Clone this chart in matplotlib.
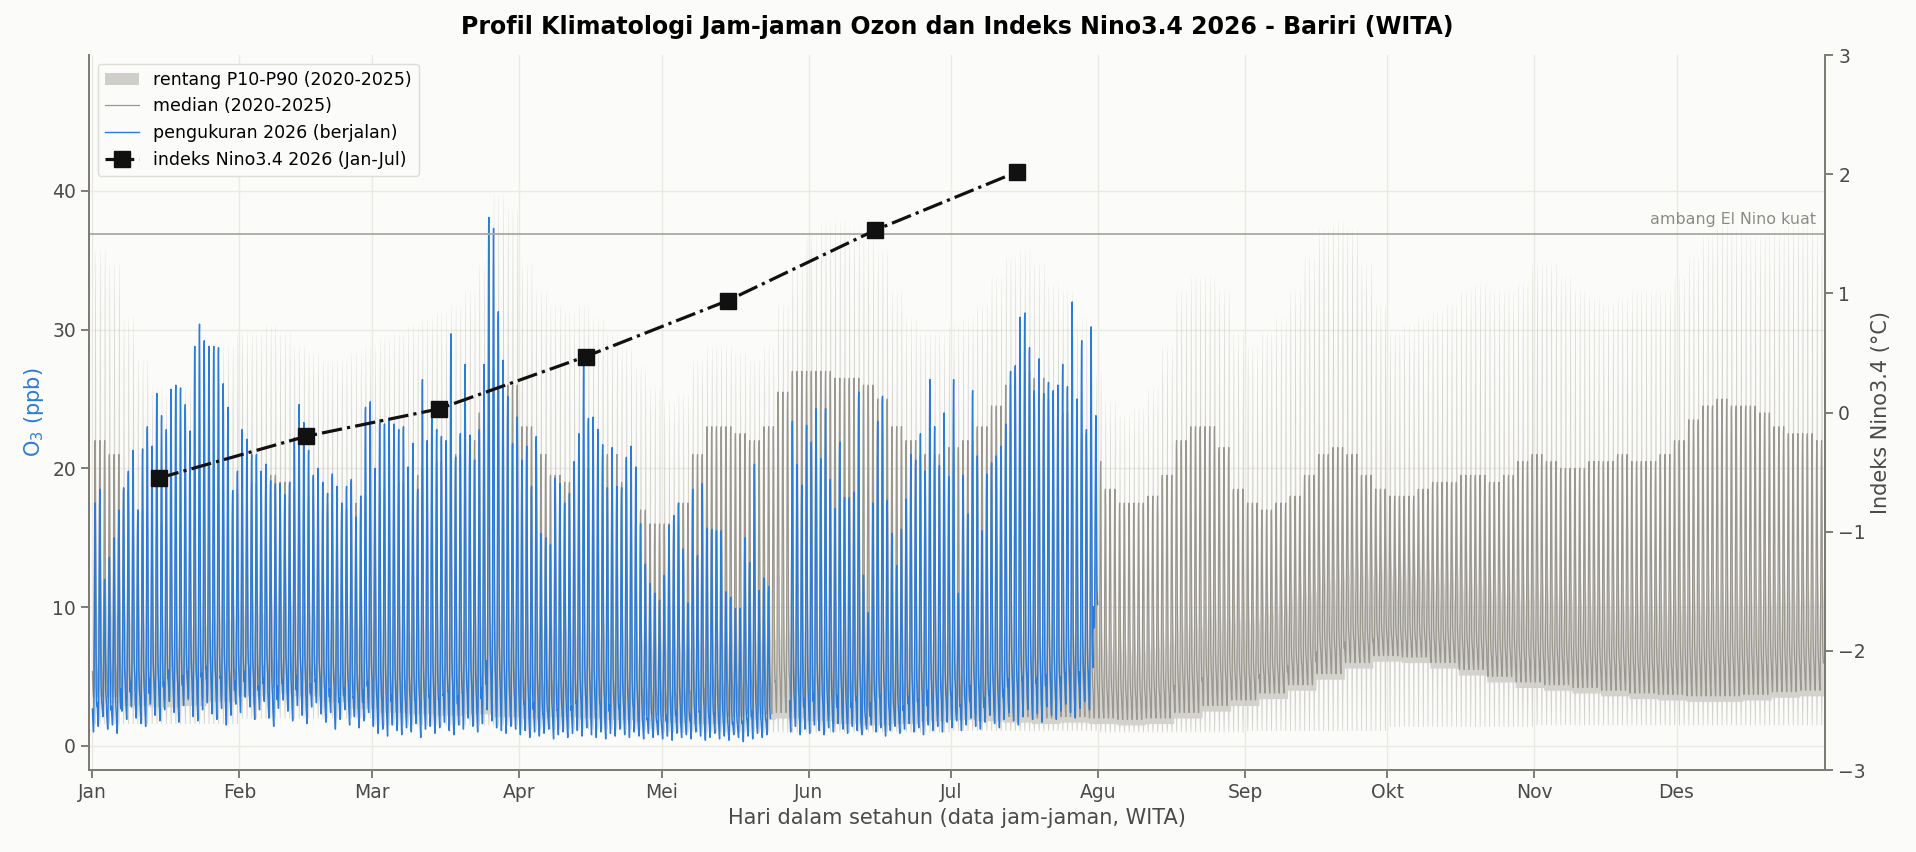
import numpy as np
import matplotlib.pyplot as plt
from matplotlib.patches import Patch
from matplotlib.lines import Line2D

# ---- data ----
month_labels = ["Jan", "Feb", "Mar", "Apr", "Mei", "Jun", "Jul", "Agu", "Sep", "Okt", "Nov", "Des"]
month_days = [31, 28, 31, 30, 31, 30, 31, 31, 30, 31, 30, 31]

# typical diurnal ozone shape (0 = night low, 1 = afternoon peak), hours 0..23 WITA
diurnal = [0.10, 0.07, 0.05, 0.03, 0.02, 0.00, 0.00, 0.04, 0.15, 0.32, 0.52, 0.72,
           0.88, 0.98, 1.00, 0.90, 0.70, 0.45, 0.28, 0.20, 0.16, 0.14, 0.12, 0.11]
# hours in which the low percentile dips (P10 drops around midday)
p10_dip = [0, 0, 0, 0, 0, 0, 0, 0, 0, 0.5, 1, 1,
           1, 1, 1, 0.5, 0, 0, 0, 0, 0, 0, 0, 0]

# climatology 2020-2025: afternoon peaks in 3-day steps (ppb)
med_peak = [22, 21, 18.5, 17, 16, 15.5, 16, 17, 17.5, 18,
            18.5, 19, 19.5, 19, 18.5, 18, 17.5, 17, 17.5, 18,
            18.5, 19, 19.5, 20, 20.5, 21, 22, 24, 27, 26,
            23, 21, 19.5, 19, 20, 21, 21, 19, 17, 16,
            16, 17.5, 21, 23, 23, 22.5, 22, 23, 25.5, 27,
            27, 27, 26.5, 26.5, 26, 25, 23, 22, 21, 21,
            21.5, 22, 23, 24.5, 26, 27, 26.5, 25, 24, 22.5,
            20.5, 18.5, 17.5, 17.5, 18, 19.5, 22, 23, 23, 21.5, 18.5,
            17.5, 17, 17.5, 18, 19.5, 21, 21.5, 21, 19.5, 18.5,
            18, 18, 18.5, 19, 19, 19.5, 19.5, 19, 19.5, 20.5,
            21, 20.5, 20, 20, 20.5, 20.5, 21, 20.5, 20.5, 21,
            22, 23.5, 24.5, 25, 24.5, 24.5, 24, 23, 22.5, 22.5, 22]
p90_peak = [36, 35, 31, 28, 26, 25.5, 26, 27, 28, 29,
            30, 30, 30.5, 30, 29, 28.5, 28, 28, 28.5, 29,
            29.5, 30, 30.5, 31, 31.5, 32, 33, 35, 40, 39,
            35, 33, 32, 31.5, 32, 31, 30, 29, 27.5, 26,
            25, 25.5, 28, 29, 29, 28.5, 28, 29, 32, 35,
            37, 38, 38, 37.5, 37, 36, 33, 31, 30, 30,
            30.5, 31, 32, 34, 35.5, 36, 35, 33.5, 33, 31,
            27, 25, 24, 24.5, 26, 29, 33, 34, 34, 33, 30,
            29, 30, 31, 33, 35.5, 37.5, 38, 37.5, 35, 32,
            30, 30.5, 31, 31.5, 32, 33, 33.5, 33, 33, 33.5,
            35, 35, 34, 33, 32.5, 32, 32.5, 33, 33, 33,
            34, 35.5, 37, 38, 37.5, 37, 37, 37.5, 38, 38, 37.5]
# night levels in 6-day steps: median, P10 and P90
med_trough = [3.5, 3.3, 3.2, 3.3, 3.6, 4.0, 4.2, 4.0, 3.6, 3.1,
              2.8, 2.7, 2.6, 2.7, 2.5, 2.4, 2.5, 2.4, 2.3, 2.2,
              2.1, 2.0, 2.1, 2.3, 2.4, 2.2, 2.0, 1.9, 2.0, 2.2,
              2.3, 2.2, 2.1, 2.0, 2.1, 2.0, 1.9, 2.0, 2.4, 2.9,
              3.3, 3.8, 4.4, 5.2, 6.0, 6.5, 6.4, 6.0, 5.5, 5.0,
              4.6, 4.4, 4.2, 4.0, 3.8, 3.7, 3.6, 3.6, 3.7, 3.9, 4.0]
p10_night = [3.1, 2.9, 2.8, 2.9, 3.2, 3.6, 3.8, 3.6, 3.2, 2.7,
             2.4, 2.3, 2.2, 2.3, 2.1, 2.0, 2.1, 2.0, 1.9, 1.8,
             1.7, 1.6, 1.7, 1.9, 2.0, 1.8, 1.6, 1.5, 1.6, 1.8,
             1.9, 1.8, 1.7, 1.6, 1.7, 1.6, 1.5, 1.6, 2.0, 2.5,
             2.9, 3.4, 4.0, 4.8, 5.6, 6.1, 6.0, 5.6, 5.1, 4.6,
             4.2, 4.0, 3.8, 3.6, 3.4, 3.3, 3.2, 3.2, 3.3, 3.5, 3.6]
p90_night = [6.5, 6.3, 6.2, 6.3, 6.6, 7.0, 7.2, 7.0, 6.6, 6.1,
             5.6, 5.5, 5.4, 5.5, 5.3, 5.1, 5.2, 5.1, 5.0, 4.9,
             4.7, 4.6, 4.7, 4.9, 5.0, 4.8, 4.6, 4.5, 4.6, 4.8,
             4.9, 4.8, 4.7, 4.6, 4.7, 4.6, 4.5, 4.6, 5.2, 5.8,
             6.4, 7.0, 7.8, 8.6, 9.4, 10.0, 9.9, 9.4, 8.8, 8.2,
             7.7, 7.4, 7.2, 7.0, 6.8, 6.6, 6.5, 6.5, 6.6, 6.9, 7.0]
# monthly midday low of P10
p10_day = [1.6, 2.0, 1.5, 1.2, 1.0, 1.0, 1.1, 1.0, 1.1, 1.4, 1.5, 1.5]

# 2026 measurements, daily afternoon peak and night low (ppb), Jan 1 - Jul 31
obs_peak = [
    17.5, 18.5, 12.0, 13.6, 15.0, 17.0, 18.6, 19.8, 21.3, 17.0, 21.4, 23.0, 21.6, 25.4, 23.8, 22.8,
    25.7, 26.0, 25.8, 24.6, 22.7, 28.8, 30.4, 29.2, 28.8, 28.8, 28.7, 26.1, 24.4, 18.4, 19.8,
    22.8, 22.1, 21.0, 21.0, 19.8, 20.3, 19.1, 18.9, 18.9, 18.1, 19.0, 22.2, 24.6, 23.3, 21.3, 19.5,
    20.0, 19.0, 18.2, 19.6, 18.7, 17.5, 18.7, 19.2, 16.5, 18.0, 24.4, 24.8,
    20.0, 23.5, 23.2, 23.5, 23.2, 22.8, 23.0, 20.1, 21.8, 18.5, 26.4, 22.0, 24.0, 22.8, 22.3, 22.0,
    29.7, 20.8, 22.5, 27.5, 22.4, 20.6, 22.8, 27.5, 38.1, 37.3, 31.3, 27.8, 25.2, 21.8, 23.7,
    20.6, 21.6, 18.7, 22.3, 15.3, 15.0, 14.5, 19.3, 18.9, 17.5, 18.2, 20.5, 22.5, 27.8, 23.6, 23.7,
    22.8, 21.7, 18.6, 21.5, 18.7, 18.6, 20.8, 21.6, 20.1, 16.0, 13.1, 11.7, 11.0, 10.5,
    12.3, 15.9, 16.6, 17.5, 14.2, 10.3, 18.5, 13.7, 18.9, 15.7, 15.6, 15.5, 15.5, 11.1, 10.7, 9.9,
    9.9, 15.0, 13.2, 20.3, 11.2, 12.1, 11.5, np.nan, np.nan, np.nan, np.nan, 23.4, 20.3, 18.8, 23.1,
    21.9, 24.3, 20.7, 24.3, 19.2, 17.1, 21.9, 17.9, 17.9, 18.3, 25.5, 12.3, 9.6, 17.5, 23.4, 25.2,
    17.7, 15.3, 13.0, 15.6, 17.8, 21.0, 20.6, 22.5, 19.8, 26.4, 23.0, 20.2, 24.0, 19.4,
    26.4, 11.0, 19.5, 16.7, 25.6, 20.9, 15.5, 19.6, 20.4, 20.9, 21.6, 23.2, 27.0, 27.4, 30.9, 31.2,
    28.7, 25.6, 27.9, 25.4, 26.2, 25.6, 26.0, 27.5, 25.9, 32.0, 25.0, 29.2, 22.8, 30.2, 23.8,
]
obs_low = [
    1.0, 1.4, 2.1, 1.2, 1.5, 0.9, 2.5, 1.9, 2.8, 2.0, 1.6, 1.4, 3.0, 2.2, 1.8, 2.6,
    3.2, 2.4, 1.7, 2.9, 3.4, 2.1, 1.8, 2.6, 3.1, 2.3, 1.9, 2.7, 1.5, 2.2, 3.0,
    2.4, 3.5, 2.8, 1.9, 2.6, 3.2, 2.0, 1.4, 2.7, 3.3, 2.5, 1.8, 2.9, 2.2, 1.6, 2.8,
    3.1, 2.3, 1.7, 2.4, 1.2, 1.9, 2.6, 1.5, 2.1, 1.3, 1.8, 2.4,
    1.4, 0.9, 1.2, 0.7, 1.5, 1.1, 0.8, 1.3, 1.0, 1.6, 0.6, 1.2, 1.4, 0.9, 1.3, 1.7,
    1.1, 0.8, 1.5, 1.2, 2.0, 1.4, 1.0, 1.6, 2.6, 1.8, 1.3, 1.1, 0.9, 1.4, 1.2,
    0.8, 1.1, 0.6, 1.0, 0.7, 0.9, 1.2, 0.5, 0.8, 1.0, 0.6, 0.9, 1.1, 0.7, 1.3, 0.8,
    0.6, 1.0, 0.5, 0.9, 0.7, 1.2, 0.8, 0.6, 1.0, 0.7, 0.5, 0.9, 0.6, 0.8,
    0.5, 0.7, 0.4, 0.9, 0.6, 0.8, 0.5, 1.0, 0.7, 0.4, 0.6, 0.9, 0.5, 0.7, 0.4, 0.8,
    0.6, 0.3, 0.7, 0.5, 0.9, 0.6, 0.8, np.nan, np.nan, np.nan, np.nan, 1.0, 1.4, 0.8, 1.2,
    0.9, 1.5, 1.1, 0.8, 1.3, 1.0, 1.6, 1.2, 0.9, 1.4, 1.1, 0.8, 1.2, 1.5, 1.0, 1.3,
    0.7, 1.1, 1.4, 0.9, 1.2, 1.6, 1.0, 1.3, 0.8, 1.5, 1.1, 1.4, 1.0, 1.7,
    1.3, 1.8, 1.1, 1.5, 2.0, 1.4, 1.2, 1.7, 2.2, 1.6, 1.3, 1.9, 2.4, 1.8, 1.5, 2.1,
    2.6, 1.9, 2.3, 1.7, 2.8, 2.2, 1.9, 2.5, 3.0, 2.4, 2.0, 2.7, 3.2, 2.6, 8.5,
]

# Nino3.4 index 2026, mid-month
nino_day = [14, 45, 73, 104, 134, 165, 195]
nino_val = [-0.55, -0.20, 0.03, 0.47, 0.94, 1.53, 2.02]
strong_threshold = 1.5

# ---- expand to hourly ----
n_days = 365
shape_clim = np.tile(diurnal, n_days)
dip = np.tile(p10_dip, n_days)
t_clim = np.arange(n_days * 24) / 24.0


def steps(v, n):
    return np.repeat(np.repeat(v, n)[:n_days], 24)


def monthly(v):
    return np.repeat(np.repeat(v, month_days), 24)


med_lo = steps(med_trough, 6)
p90_lo = steps(p90_night, 6)
p10_lo = steps(p10_night, 6)
median = med_lo + (steps(med_peak, 3) - med_lo) * shape_clim
p90 = p90_lo + (steps(p90_peak, 3) - p90_lo) * shape_clim
p10 = p10_lo + (monthly(p10_day) - p10_lo) * dip

n_obs = len(obs_peak)
t_obs = np.arange(n_obs * 24) / 24.0
lo = np.repeat(obs_low, 24)
hi = np.repeat(obs_peak, 24)
obs = lo + (hi - lo) * np.tile(diurnal, n_obs)

# ---- plot ----
bg = "#fbfbf9"
spine_c = "#7f7b75"
blue = "#2b7bd9"

fig = plt.figure(figsize=(19.16, 8.52), dpi=100, facecolor=bg)
ax = fig.add_axes([0.0465, 0.0962, 0.906, 0.8392], facecolor=bg)

ax.fill_between(t_clim, p10, p90, color="#b9b7b0", alpha=0.6, lw=0, zorder=1)
ax.plot(t_clim, median, color="#9a978f", lw=0.9, zorder=2)
ax.plot(t_obs, obs, color=blue, lw=1.0, zorder=3)

ax.set_xlim(-0.7, 365.3)
ax.set_ylim(-1.75, 49.8)
month_start = np.concatenate([[0], np.cumsum(month_days)[:-1]])
ax.set_xticks(month_start)
ax.set_xticklabels(month_labels)
ax.set_yticks([0, 10, 20, 30, 40])
ax.grid(color="#ebe9e4", lw=1.0)
ax.set_axisbelow(True)

ax2 = ax.twinx()
ax2.axhline(strong_threshold, color="#aaa8a2", lw=1.3, zorder=1)
ax2.text(363.5, strong_threshold + 0.06, "ambang El Nino kuat", ha="right", va="bottom",
         fontsize=11.4, color="#8c8a85")
ax2.plot(nino_day, nino_val, color="#111111", ls="-.", lw=2.3, marker="s", ms=11.5,
         zorder=5)
ax2.set_ylim(-3, 3)
ax2.set_yticks([-3, -2, -1, 0, 1, 2, 3])

for a in (ax, ax2):
    a.spines["top"].set_visible(False)
    for s in ("left", "right", "bottom"):
        a.spines[s].set_color(spine_c)
        a.spines[s].set_linewidth(1.4)
    a.tick_params(colors=spine_c, labelcolor="#4a4a4a", labelsize=13.5, width=1.4, length=6)

ax.set_xlabel("Hari dalam setahun (data jam-jaman, WITA)", fontsize=15, color="#4a4a4a")
ax.set_ylabel("O$_3$ (ppb)", fontsize=15, color=blue)
ax2.set_ylabel("Indeks Nino3.4 (°C)", fontsize=15, color="#4a4a4a")
ax.set_title("Profil Klimatologi Jam-jaman Ozon dan Indeks Nino3.4 2026 - Bariri (WITA)",
             fontsize=17, fontweight="bold", pad=15)

handles = [
    Patch(facecolor="#b9b7b0", alpha=0.65, edgecolor="none", label="rentang P10-P90 (2020-2025)"),
    Line2D([], [], color="#9a978f", lw=0.9, label="median (2020-2025)"),
    Line2D([], [], color=blue, lw=1.0, label="pengukuran 2026 (berjalan)"),
    Line2D([], [], color="#111111", ls="-.", lw=2.3, marker="s", ms=11.5,
           label="indeks Nino3.4 2026 (Jan-Jul)"),
]
leg = ax2.legend(handles=handles, loc="upper left", fontsize=12.5, frameon=True,
                 facecolor=bg, edgecolor="#dedcd6", framealpha=1.0)
leg.set_zorder(10)

fig.savefig("out.png", dpi=100, facecolor=bg)
